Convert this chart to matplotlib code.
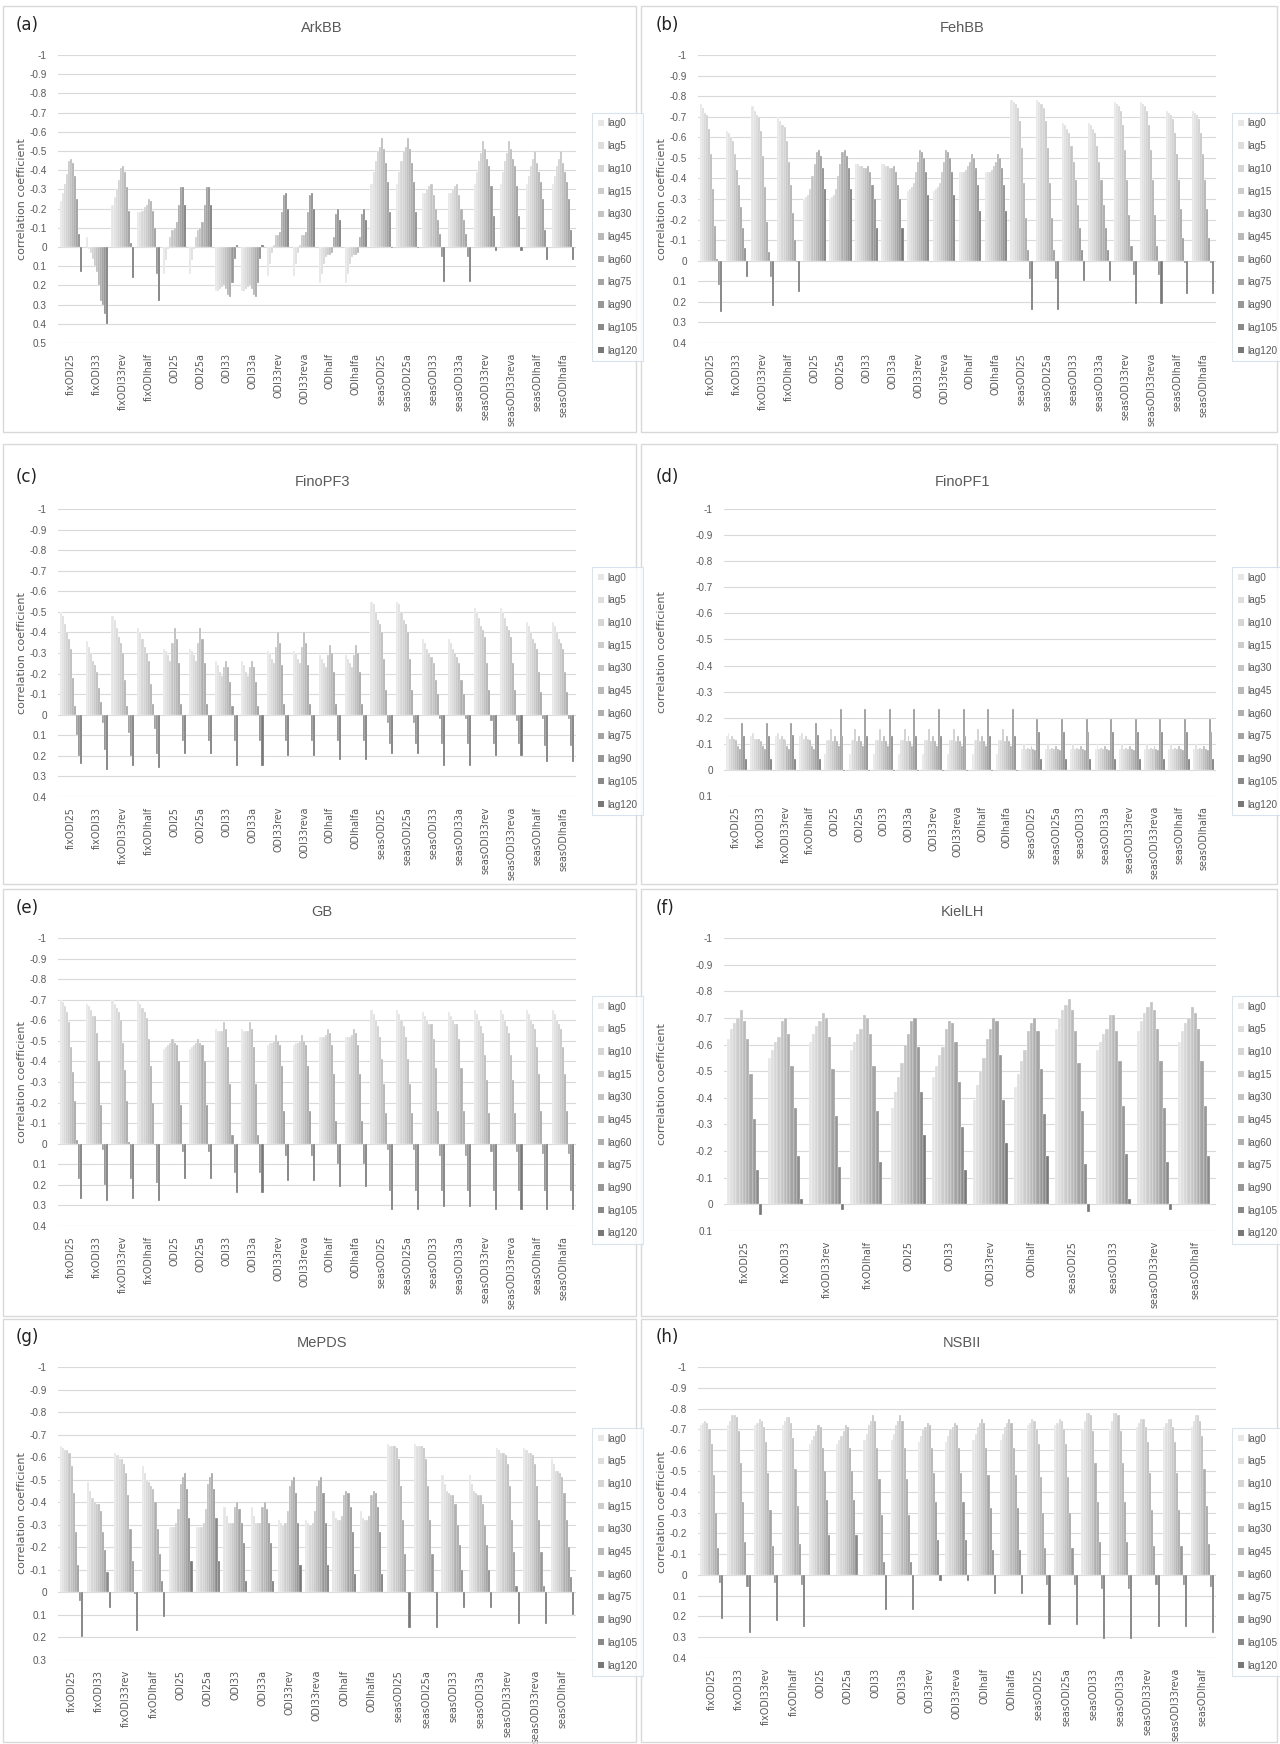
import matplotlib
matplotlib.use('Agg')
import matplotlib.pyplot as plt
import matplotlib.patches as mpatches
import numpy as np

# ---------------- data ----------------
LAGS = ['lag0', 'lag5', 'lag10', 'lag15', 'lag30', 'lag45', 'lag60', 'lag75', 'lag90', 'lag105', 'lag120']

CATS20 = ['fixODI25', 'fixODI33', 'fixODI33rev', 'fixODIhalf', 'ODI25', 'ODI25a', 'ODI33', 'ODI33a',
          'ODI33rev', 'ODI33reva', 'ODIhalf', 'ODIhalfa', 'seasODI25', 'seasODI25a', 'seasODI33',
          'seasODI33a', 'seasODI33rev', 'seasODI33reva', 'seasODIhalf', 'seasODIhalfa']
CATS19 = CATS20[:19]
CATS12 = ['fixODI25', 'fixODI33', 'fixODI33rev', 'fixODIhalf', 'ODI25', 'ODI33', 'ODI33rev', 'ODIhalf',
          'seasODI25', 'seasODI33', 'seasODI33rev', 'seasODIhalf']

ARKBB = [
    [-0.24, -0.28, -0.33, -0.38, -0.45, -0.46, -0.44, -0.37, -0.25, -0.07, 0.13],
    [-0.05, 0.01, 0.03, 0.06, 0.10, 0.13, 0.20, 0.28, 0.30, 0.35, 0.40],
    [-0.22, -0.26, -0.30, -0.35, -0.41, -0.42, -0.39, -0.31, -0.19, -0.02, 0.16],
    [-0.18, -0.18, -0.19, -0.21, -0.22, -0.25, -0.24, -0.19, -0.10, 0.14, 0.28],
    [0.14, 0.07, 0.01, -0.05, -0.09, -0.10, -0.13, -0.22, -0.31, -0.31, -0.22],
    [0.14, 0.07, 0.01, -0.05, -0.09, -0.10, -0.13, -0.22, -0.31, -0.31, -0.22],
    [0.23, 0.23, 0.22, 0.21, 0.20, 0.22, 0.25, 0.26, 0.19, 0.06, -0.01],
    [0.23, 0.23, 0.22, 0.21, 0.20, 0.22, 0.25, 0.26, 0.19, 0.06, -0.01],
    [0.15, 0.09, 0.03, -0.01, -0.06, -0.06, -0.08, -0.18, -0.27, -0.28, -0.20],
    [0.15, 0.09, 0.03, -0.01, -0.06, -0.06, -0.08, -0.18, -0.27, -0.28, -0.20],
    [0.19, 0.14, 0.09, 0.05, 0.04, 0.04, 0.03, -0.05, -0.17, -0.20, -0.14],
    [0.19, 0.14, 0.09, 0.05, 0.04, 0.04, 0.03, -0.05, -0.17, -0.20, -0.14],
    [-0.33, -0.39, -0.45, -0.50, -0.52, -0.57, -0.51, -0.44, -0.34, -0.18, 0.005],
    [-0.33, -0.39, -0.45, -0.50, -0.52, -0.57, -0.51, -0.44, -0.34, -0.18, 0.005],
    [-0.28, -0.28, -0.30, -0.32, -0.33, -0.27, -0.20, -0.14, -0.07, 0.05, 0.18],
    [-0.28, -0.28, -0.30, -0.32, -0.33, -0.27, -0.20, -0.14, -0.07, 0.05, 0.18],
    [-0.33, -0.39, -0.45, -0.49, -0.55, -0.51, -0.46, -0.42, -0.32, -0.16, 0.02],
    [-0.33, -0.39, -0.45, -0.49, -0.55, -0.51, -0.46, -0.42, -0.32, -0.16, 0.02],
    [-0.33, -0.37, -0.42, -0.46, -0.50, -0.44, -0.39, -0.34, -0.25, -0.09, 0.07],
    [-0.33, -0.37, -0.42, -0.46, -0.50, -0.44, -0.39, -0.34, -0.25, -0.09, 0.07],
]

FEHBB = [
    [-0.76, -0.74, -0.72, -0.71, -0.64, -0.52, -0.35, -0.17, -0.01, 0.12, 0.25],
    [-0.63, -0.62, -0.60, -0.58, -0.52, -0.44, -0.37, -0.26, -0.16, -0.06, 0.08],
    [-0.75, -0.73, -0.71, -0.70, -0.63, -0.51, -0.36, -0.19, -0.04, 0.08, 0.22],
    [-0.70, -0.68, -0.66, -0.65, -0.58, -0.48, -0.37, -0.23, -0.10, 0.005, 0.15],
    [-0.30, -0.31, -0.32, -0.35, -0.41, -0.47, -0.53, -0.54, -0.51, -0.45, -0.35],
    [-0.30, -0.31, -0.32, -0.35, -0.41, -0.47, -0.53, -0.54, -0.51, -0.45, -0.35],
    [-0.47, -0.47, -0.46, -0.46, -0.45, -0.45, -0.46, -0.43, -0.37, -0.30, -0.16],
    [-0.47, -0.47, -0.46, -0.46, -0.45, -0.45, -0.46, -0.43, -0.37, -0.30, -0.16],
    [-0.34, -0.35, -0.36, -0.38, -0.43, -0.48, -0.54, -0.53, -0.50, -0.43, -0.32],
    [-0.34, -0.35, -0.36, -0.38, -0.43, -0.48, -0.54, -0.53, -0.50, -0.43, -0.32],
    [-0.43, -0.43, -0.43, -0.44, -0.46, -0.48, -0.52, -0.50, -0.45, -0.37, -0.24],
    [-0.43, -0.43, -0.43, -0.44, -0.46, -0.48, -0.52, -0.50, -0.45, -0.37, -0.24],
    [-0.78, -0.77, -0.76, -0.74, -0.68, -0.55, -0.38, -0.21, -0.05, 0.09, 0.24],
    [-0.78, -0.77, -0.76, -0.74, -0.68, -0.55, -0.38, -0.21, -0.05, 0.09, 0.24],
    [-0.67, -0.66, -0.64, -0.62, -0.56, -0.48, -0.39, -0.27, -0.16, -0.05, 0.10],
    [-0.67, -0.66, -0.64, -0.62, -0.56, -0.48, -0.39, -0.27, -0.16, -0.05, 0.10],
    [-0.77, -0.76, -0.75, -0.73, -0.66, -0.54, -0.39, -0.22, -0.07, 0.07, 0.21],
    [-0.77, -0.76, -0.75, -0.73, -0.66, -0.54, -0.39, -0.22, -0.07, 0.07, 0.21],
    [-0.73, -0.72, -0.71, -0.69, -0.62, -0.52, -0.39, -0.25, -0.11, 0.01, 0.16],
    [-0.73, -0.72, -0.71, -0.69, -0.62, -0.52, -0.39, -0.25, -0.11, 0.01, 0.16],
]

FINOPF3 = [
    [-0.50, -0.48, -0.44, -0.40, -0.37, -0.32, -0.18, -0.04, 0.10, 0.20, 0.24],
    [-0.36, -0.33, -0.30, -0.26, -0.24, -0.21, -0.13, -0.06, 0.04, 0.17, 0.27],
    [-0.48, -0.46, -0.42, -0.38, -0.35, -0.30, -0.17, -0.04, 0.09, 0.20, 0.25],
    [-0.42, -0.40, -0.37, -0.33, -0.30, -0.26, -0.15, -0.05, 0.07, 0.19, 0.26],
    [-0.32, -0.31, -0.29, -0.26, -0.35, -0.42, -0.37, -0.25, -0.05, 0.13, 0.19],
    [-0.32, -0.31, -0.29, -0.26, -0.35, -0.42, -0.37, -0.25, -0.05, 0.13, 0.19],
    [-0.26, -0.24, -0.21, -0.19, -0.23, -0.26, -0.23, -0.16, -0.04, 0.13, 0.25],
    [-0.26, -0.24, -0.21, -0.19, -0.23, -0.26, -0.23, -0.16, -0.04, 0.13, 0.25],
    [-0.31, -0.30, -0.27, -0.25, -0.33, -0.40, -0.35, -0.24, -0.05, 0.13, 0.20],
    [-0.31, -0.30, -0.27, -0.25, -0.33, -0.40, -0.35, -0.24, -0.05, 0.13, 0.20],
    [-0.29, -0.27, -0.25, -0.23, -0.29, -0.34, -0.30, -0.21, -0.05, 0.13, 0.22],
    [-0.29, -0.27, -0.25, -0.23, -0.29, -0.34, -0.30, -0.21, -0.05, 0.13, 0.22],
    [-0.55, -0.54, -0.50, -0.46, -0.44, -0.40, -0.27, -0.12, 0.04, 0.14, 0.19],
    [-0.55, -0.54, -0.50, -0.46, -0.44, -0.40, -0.27, -0.12, 0.04, 0.14, 0.19],
    [-0.37, -0.35, -0.32, -0.30, -0.28, -0.25, -0.17, -0.10, 0.02, 0.14, 0.25],
    [-0.37, -0.35, -0.32, -0.30, -0.28, -0.25, -0.17, -0.10, 0.02, 0.14, 0.25],
    [-0.52, -0.50, -0.47, -0.43, -0.41, -0.38, -0.25, -0.12, 0.03, 0.14, 0.20],
    [-0.52, -0.50, -0.47, -0.43, -0.41, -0.38, -0.25, -0.12, 0.03, 0.14, 0.20],
    [-0.45, -0.43, -0.40, -0.37, -0.35, -0.32, -0.21, -0.11, 0.02, 0.15, 0.23],
    [-0.45, -0.43, -0.40, -0.37, -0.35, -0.32, -0.21, -0.11, 0.02, 0.15, 0.23],
]

FINOPF1 = [
    [-0.13, -0.14, -0.12, -0.13, -0.12, -0.115, -0.09, -0.08, -0.18, -0.13, -0.04],
    [-0.13, -0.14, -0.12, -0.12, -0.12, -0.11, -0.09, -0.08, -0.18, -0.13, -0.04],
    [-0.13, -0.14, -0.12, -0.13, -0.12, -0.115, -0.09, -0.08, -0.18, -0.135, -0.04],
    [-0.13, -0.14, -0.12, -0.13, -0.12, -0.115, -0.09, -0.08, -0.18, -0.135, -0.04],
    [-0.06, -0.115, -0.115, -0.155, -0.11, -0.13, -0.11, -0.09, -0.235, -0.13, 0.005],
    [-0.06, -0.115, -0.115, -0.155, -0.11, -0.13, -0.11, -0.09, -0.235, -0.13, 0.005],
    [-0.06, -0.115, -0.115, -0.155, -0.11, -0.13, -0.11, -0.09, -0.235, -0.13, 0.005],
    [-0.06, -0.115, -0.115, -0.155, -0.11, -0.13, -0.11, -0.09, -0.235, -0.13, 0.005],
    [-0.06, -0.115, -0.115, -0.155, -0.11, -0.13, -0.11, -0.09, -0.235, -0.13, 0.005],
    [-0.06, -0.115, -0.115, -0.155, -0.11, -0.13, -0.11, -0.09, -0.235, -0.13, 0.005],
    [-0.06, -0.115, -0.115, -0.155, -0.11, -0.13, -0.11, -0.09, -0.235, -0.13, 0.005],
    [-0.06, -0.115, -0.115, -0.155, -0.11, -0.13, -0.11, -0.09, -0.235, -0.13, 0.005],
    [-0.08, -0.10, -0.08, -0.085, -0.08, -0.09, -0.08, -0.075, -0.195, -0.145, -0.04],
    [-0.08, -0.10, -0.08, -0.085, -0.08, -0.09, -0.08, -0.075, -0.195, -0.145, -0.04],
    [-0.08, -0.10, -0.08, -0.085, -0.08, -0.09, -0.08, -0.075, -0.195, -0.145, -0.04],
    [-0.08, -0.10, -0.08, -0.085, -0.08, -0.09, -0.08, -0.075, -0.195, -0.145, -0.04],
    [-0.08, -0.10, -0.08, -0.085, -0.08, -0.09, -0.08, -0.075, -0.195, -0.145, -0.04],
    [-0.08, -0.10, -0.08, -0.085, -0.08, -0.09, -0.08, -0.075, -0.195, -0.145, -0.04],
    [-0.08, -0.10, -0.08, -0.085, -0.08, -0.09, -0.08, -0.075, -0.195, -0.145, -0.04],
    [-0.08, -0.10, -0.08, -0.085, -0.08, -0.09, -0.08, -0.075, -0.195, -0.145, -0.04],
]

GB = [
    [-0.70, -0.69, -0.67, -0.64, -0.59, -0.47, -0.35, -0.21, -0.02, 0.17, 0.27],
    [-0.68, -0.67, -0.65, -0.62, -0.62, -0.54, -0.40, -0.19, 0.03, 0.20, 0.28],
    [-0.70, -0.68, -0.66, -0.64, -0.60, -0.49, -0.36, -0.21, -0.01, 0.17, 0.27],
    [-0.70, -0.68, -0.66, -0.64, -0.61, -0.51, -0.38, -0.20, 0.005, 0.19, 0.28],
    [-0.46, -0.47, -0.48, -0.49, -0.51, -0.49, -0.48, -0.40, -0.19, 0.04, 0.17],
    [-0.46, -0.47, -0.48, -0.49, -0.51, -0.49, -0.48, -0.40, -0.19, 0.04, 0.17],
    [-0.56, -0.55, -0.55, -0.55, -0.59, -0.56, -0.47, -0.29, -0.04, 0.14, 0.24],
    [-0.56, -0.55, -0.55, -0.55, -0.59, -0.56, -0.47, -0.29, -0.04, 0.14, 0.24],
    [-0.48, -0.49, -0.49, -0.50, -0.53, -0.50, -0.48, -0.38, -0.16, 0.06, 0.18],
    [-0.48, -0.49, -0.49, -0.50, -0.53, -0.50, -0.48, -0.38, -0.16, 0.06, 0.18],
    [-0.52, -0.52, -0.52, -0.53, -0.56, -0.54, -0.48, -0.34, -0.11, 0.10, 0.21],
    [-0.52, -0.52, -0.52, -0.53, -0.56, -0.54, -0.48, -0.34, -0.11, 0.10, 0.21],
    [-0.65, -0.63, -0.60, -0.57, -0.52, -0.41, -0.29, -0.15, 0.03, 0.23, 0.32],
    [-0.65, -0.63, -0.60, -0.57, -0.52, -0.41, -0.29, -0.15, 0.03, 0.23, 0.32],
    [-0.64, -0.62, -0.60, -0.58, -0.58, -0.51, -0.37, -0.16, 0.06, 0.23, 0.31],
    [-0.64, -0.62, -0.60, -0.58, -0.58, -0.51, -0.37, -0.16, 0.06, 0.23, 0.31],
    [-0.65, -0.63, -0.60, -0.57, -0.54, -0.43, -0.31, -0.15, 0.04, 0.23, 0.32],
    [-0.65, -0.63, -0.60, -0.57, -0.54, -0.43, -0.31, -0.15, 0.04, 0.23, 0.32],
    [-0.65, -0.63, -0.60, -0.58, -0.56, -0.47, -0.34, -0.16, 0.05, 0.23, 0.32],
    [-0.65, -0.63, -0.60, -0.58, -0.56, -0.47, -0.34, -0.16, 0.05, 0.23, 0.32],
]

KIELLH = [
    [-0.62, -0.66, -0.68, -0.70, -0.73, -0.69, -0.62, -0.49, -0.32, -0.13, 0.04],
    [-0.55, -0.58, -0.61, -0.63, -0.69, -0.70, -0.64, -0.52, -0.36, -0.18, -0.02],
    [-0.61, -0.64, -0.67, -0.69, -0.72, -0.70, -0.63, -0.51, -0.33, -0.14, 0.02],
    [-0.58, -0.61, -0.64, -0.66, -0.71, -0.70, -0.64, -0.52, -0.35, -0.16, -0.003],
    [-0.36, -0.42, -0.48, -0.53, -0.60, -0.64, -0.69, -0.70, -0.59, -0.42, -0.26],
    [-0.48, -0.52, -0.56, -0.59, -0.66, -0.69, -0.68, -0.61, -0.46, -0.29, -0.13],
    [-0.39, -0.45, -0.50, -0.55, -0.62, -0.66, -0.70, -0.69, -0.56, -0.39, -0.23],
    [-0.44, -0.49, -0.54, -0.58, -0.65, -0.68, -0.70, -0.65, -0.51, -0.34, -0.18],
    [-0.66, -0.70, -0.73, -0.75, -0.77, -0.73, -0.65, -0.53, -0.35, -0.15, 0.03],
    [-0.58, -0.61, -0.64, -0.66, -0.71, -0.71, -0.65, -0.54, -0.37, -0.19, -0.02],
    [-0.65, -0.69, -0.72, -0.74, -0.76, -0.73, -0.66, -0.54, -0.36, -0.16, 0.02],
    [-0.61, -0.65, -0.68, -0.70, -0.74, -0.72, -0.66, -0.54, -0.37, -0.18, -0.002],
]

MEPDS = [
    [-0.65, -0.64, -0.63, -0.63, -0.62, -0.56, -0.44, -0.27, -0.12, 0.04, 0.20],
    [-0.49, -0.45, -0.42, -0.40, -0.39, -0.39, -0.36, -0.27, -0.19, -0.09, 0.07],
    [-0.62, -0.61, -0.59, -0.59, -0.57, -0.53, -0.43, -0.28, -0.14, 0.005, 0.17],
    [-0.56, -0.53, -0.50, -0.49, -0.47, -0.46, -0.40, -0.28, -0.17, -0.05, 0.11],
    [-0.29, -0.29, -0.29, -0.31, -0.37, -0.48, -0.51, -0.53, -0.46, -0.33, -0.14],
    [-0.29, -0.29, -0.29, -0.31, -0.37, -0.48, -0.51, -0.53, -0.46, -0.33, -0.14],
    [-0.38, -0.34, -0.31, -0.31, -0.31, -0.38, -0.40, -0.37, -0.31, -0.22, -0.05],
    [-0.38, -0.34, -0.31, -0.31, -0.31, -0.38, -0.40, -0.37, -0.31, -0.22, -0.05],
    [-0.32, -0.31, -0.30, -0.31, -0.36, -0.47, -0.50, -0.51, -0.44, -0.31, -0.12],
    [-0.32, -0.31, -0.30, -0.31, -0.36, -0.47, -0.50, -0.51, -0.44, -0.31, -0.12],
    [-0.36, -0.33, -0.32, -0.32, -0.34, -0.43, -0.45, -0.44, -0.38, -0.27, -0.08],
    [-0.36, -0.33, -0.32, -0.32, -0.34, -0.43, -0.45, -0.44, -0.38, -0.27, -0.08],
    [-0.66, -0.65, -0.65, -0.65, -0.64, -0.59, -0.47, -0.32, -0.17, 0.003, 0.16],
    [-0.66, -0.65, -0.65, -0.65, -0.64, -0.59, -0.47, -0.32, -0.17, 0.003, 0.16],
    [-0.52, -0.48, -0.45, -0.44, -0.43, -0.43, -0.39, -0.30, -0.21, -0.10, 0.07],
    [-0.52, -0.48, -0.45, -0.44, -0.43, -0.43, -0.39, -0.30, -0.21, -0.10, 0.07],
    [-0.64, -0.63, -0.62, -0.62, -0.61, -0.57, -0.47, -0.32, -0.18, -0.03, 0.14],
    [-0.64, -0.63, -0.62, -0.62, -0.61, -0.57, -0.47, -0.32, -0.18, -0.03, 0.14],
    [-0.59, -0.57, -0.54, -0.54, -0.53, -0.51, -0.44, -0.32, -0.20, -0.07, 0.10],
]

NSBII = [
    [-0.72, -0.73, -0.74, -0.73, -0.70, -0.63, -0.48, -0.30, -0.13, 0.04, 0.21],
    [-0.72, -0.74, -0.77, -0.77, -0.76, -0.69, -0.54, -0.35, -0.16, 0.06, 0.28],
    [-0.72, -0.73, -0.75, -0.74, -0.71, -0.64, -0.49, -0.31, -0.14, 0.04, 0.22],
    [-0.72, -0.74, -0.76, -0.76, -0.73, -0.66, -0.51, -0.33, -0.15, 0.05, 0.25],
    [-0.63, -0.65, -0.67, -0.69, -0.72, -0.71, -0.61, -0.50, -0.36, -0.19, 0.003],
    [-0.63, -0.65, -0.67, -0.69, -0.72, -0.71, -0.61, -0.50, -0.36, -0.19, 0.003],
    [-0.65, -0.68, -0.72, -0.74, -0.77, -0.74, -0.61, -0.46, -0.29, -0.06, 0.17],
    [-0.65, -0.68, -0.72, -0.74, -0.77, -0.74, -0.61, -0.46, -0.29, -0.06, 0.17],
    [-0.64, -0.67, -0.70, -0.71, -0.73, -0.72, -0.61, -0.49, -0.35, -0.17, 0.03],
    [-0.64, -0.67, -0.70, -0.71, -0.73, -0.72, -0.61, -0.49, -0.35, -0.17, 0.03],
    [-0.65, -0.68, -0.71, -0.73, -0.75, -0.73, -0.61, -0.48, -0.32, -0.12, 0.09],
    [-0.65, -0.68, -0.71, -0.73, -0.75, -0.73, -0.61, -0.48, -0.32, -0.12, 0.09],
    [-0.72, -0.73, -0.75, -0.74, -0.70, -0.63, -0.47, -0.30, -0.13, 0.05, 0.24],
    [-0.72, -0.73, -0.75, -0.74, -0.70, -0.63, -0.47, -0.30, -0.13, 0.05, 0.24],
    [-0.70, -0.74, -0.78, -0.78, -0.77, -0.69, -0.54, -0.35, -0.16, 0.07, 0.31],
    [-0.70, -0.74, -0.78, -0.78, -0.77, -0.69, -0.54, -0.35, -0.16, 0.07, 0.31],
    [-0.71, -0.73, -0.75, -0.75, -0.71, -0.64, -0.49, -0.31, -0.14, 0.05, 0.25],
    [-0.71, -0.73, -0.75, -0.75, -0.71, -0.64, -0.49, -0.31, -0.14, 0.05, 0.25],
    [-0.71, -0.74, -0.77, -0.77, -0.74, -0.67, -0.51, -0.33, -0.15, 0.06, 0.28],
]

# ---------------- style ----------------
LAG_COLORS = ['#e6e6e6', '#dedede', '#d6d6d6', '#cdcdcd', '#c4c4c4', '#bababa',
              '#afafaf', '#a4a4a4', '#979797', '#898989', '#787878']
TXT = '#595959'
GRID = '#d9d9d9'
NARROW = ['Liberation Sans Narrow', 'Liberation Sans', 'DejaVu Sans']

W, H = 1280, 1744
fig = plt.figure(figsize=(W / 100, H / 100), dpi=100)
fig.patch.set_facecolor('white')


def fx(x):
    return x / W


def fy(y):
    return 1 - y / H


ROWS = [
    dict(frame=(6, 432), title_y=28, label_y=25, plot_t=55, leg_t=113),
    dict(frame=(444, 884), title_y=482, label_y=477, plot_t=509, leg_t=567),
    dict(frame=(889, 1316), title_y=912, label_y=908, plot_t=938, leg_t=996),
    dict(frame=(1319, 1742), title_y=1343, label_y=1337, plot_t=1367, leg_t=1428),
]

# letter, title, categories, values, y max, row, column, plot left px, plot bottom px
PANELS = [
    ('(a)', 'ArkBB', CATS20, ARKBB, 0.5, 0, 0, 58, 343),
    ('(b)', 'FehBB', CATS20, FEHBB, 0.4, 0, 1, 698, 343),
    ('(c)', 'FinoPF3', CATS20, FINOPF3, 0.4, 1, 0, 58, 797),
    ('(d)', 'FinoPF1', CATS20, FINOPF1, 0.1, 1, 1, 724, 796),
    ('(e)', 'GB', CATS20, GB, 0.4, 2, 0, 58, 1226),
    ('(f)', 'KielLH', CATS12, KIELLH, 0.1, 2, 1, 724, 1231),
    ('(g)', 'MePDS', CATS19, MEPDS, 0.3, 3, 0, 58, 1660),
    ('(h)', 'NSBII', CATS19, NSBII, 0.4, 3, 1, 698, 1658),
]


def tickfmt(v):
    v = round(v, 1)
    if abs(v) < 1e-9:
        return '0'
    return f'{v:g}'


for letter, title, cats, data, ymax, r, c, left, bottom in PANELS:
    row = ROWS[r]
    xoff = 0 if c == 0 else 640
    right = 576 + xoff
    top = row['plot_t']

    # panel frame
    f0, f1 = row['frame']
    fl, fr = (3, 636) if c == 0 else (641, 1277)
    fig.patches.append(mpatches.Rectangle((fx(fl), fy(f1)), (fr - fl) / W, (f1 - f0) / H,
                                          transform=fig.transFigure, fill=False,
                                          edgecolor='#d9d9d9', linewidth=1.0))

    ax = fig.add_axes([fx(left), fy(bottom), (right - left) / W, (bottom - top) / H])
    vals = np.array(data)
    n = len(cats)
    x = np.arange(n)
    nl = len(LAGS)
    bw = 0.87 / nl
    for j in range(nl):
        ax.bar(x + (j - (nl - 1) / 2) * bw, vals[:, j], width=bw, color=LAG_COLORS[j],
               edgecolor='white', linewidth=0.2, zorder=2)

    ticks = np.round(np.arange(-1.0, ymax + 1e-6, 0.1), 1)
    ax.set_yticks(ticks)
    ax.set_yticklabels([tickfmt(t) for t in ticks], fontsize=7.2, color=TXT, family=NARROW)
    ax.set_ylim(ymax, -1.0)
    ax.set_xlim(-0.5, n - 0.5)
    ax.yaxis.grid(True, color=GRID, linewidth=0.8, zorder=0)
    ax.set_axisbelow(True)
    ax.set_xticks(x)
    ax.set_xticklabels(cats, rotation=90, fontsize=6.9, color=TXT, family='DejaVu Sans')
    ax.tick_params(axis='y', length=0, pad=8)
    ax.tick_params(axis='x', length=0, pad=7)
    for s in ax.spines.values():
        s.set_visible(False)

    # titles and labels
    fig.text(fx(322 + xoff), fy(row['title_y']), title, ha='center', va='center',
             fontsize=10.5, color=TXT, family=NARROW)
    fig.text(fx(16 + xoff), fy(row['label_y']), letter, ha='left', va='center',
             fontsize=12, color='#222222')
    fig.text(fx(22 + xoff), fy((top + bottom) / 2), 'correlation coefficient', rotation=90,
             ha='center', va='center', fontsize=8, color=TXT, family='DejaVu Sans')

    # legend
    handles = [mpatches.Patch(facecolor=col, edgecolor='none') for col in LAG_COLORS]
    leg = fig.legend(handles, LAGS, loc='upper left',
                     bbox_to_anchor=(fx(592 + xoff), fy(row['leg_t'])),
                     frameon=True, fancybox=False, labelspacing=1.27,
                     handlelength=0.6, handleheight=0.6, handletextpad=0.35,
                     borderpad=0.55, borderaxespad=0.0, labelcolor=TXT,
                     prop={'family': NARROW, 'size': 7.2})
    leg.get_frame().set_edgecolor('#cfdcea')
    leg.get_frame().set_linewidth(0.8)

fig.savefig('out.png', dpi=100, facecolor='white')
